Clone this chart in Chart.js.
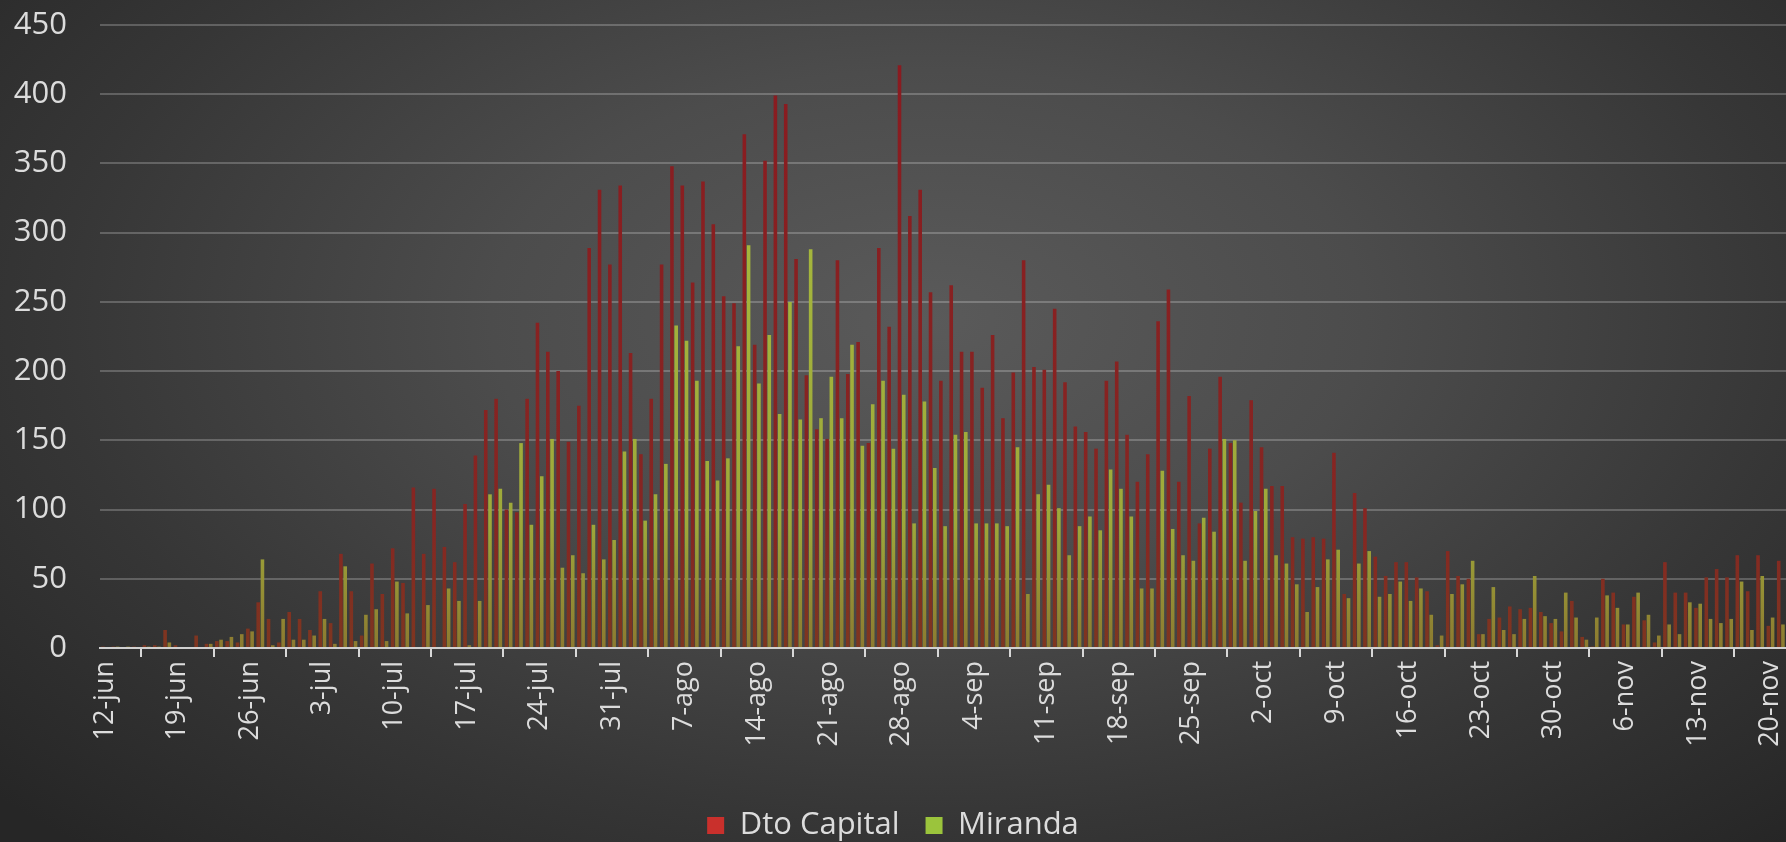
<!DOCTYPE html>
<html>
<head>
<meta charset="utf-8">
<script src="https://cdn.jsdelivr.net/npm/chart.js@4/dist/chart.umd.min.js"></script>
<style>
  html, body { margin: 0; padding: 0; }
  body {
    width: 1786px; height: 842px; overflow: hidden;
    background: radial-gradient(ellipse 70% 85% at 52% 38%, #5a5a5a 0%, #4c4c4c 35%, #363636 70%, #262626 100%);
  }
  #wrap { position: relative; width: 1786px; height: 842px; }
</style>
</head>
<body>
<div id="wrap"><canvas id="chart"></canvas></div>
<script>
// days shown on the axis: 12-jun .. 21-nov
var months = ["jun", "jul", "ago", "sep", "oct", "nov"]
var firstDay = [12, 1, 1, 1, 1, 1]
var lastDay = [30, 31, 31, 30, 31, 21]

var days = []
for (var m = 0; m < months.length; m++) {
    for (var d = firstDay[m]; d <= lastDay[m]; d++) {
        days.push(d + "-" + months[m])
    }
}

var dtoCapital = [
    // jun 12-30
    1, 1, 0, 1, 2, 2, 13, 2, 0, 9, 3, 5, 5, 4, 14, 33, 21, 4, 26,
    // jul
    21, 13, 41, 18, 68, 41, 9, 61, 39, 72, 47, 116, 68, 115, 73, 62, 104, 139, 172, 180,
    100, 98, 180, 235, 214, 200, 149, 175, 289, 331, 277,
    // ago
    334, 213, 140, 180, 277, 348, 334, 264, 337, 306, 254, 249, 371, 219, 352, 399, 393, 281, 197, 158,
    151, 280, 198, 221, 148, 289, 232, 421, 312, 331, 257,
    // sep
    193, 262, 214, 214, 188, 226, 166, 199, 280, 203, 201, 245, 192, 160, 156, 144, 193, 207, 154, 120,
    140, 236, 259, 120, 182, 90, 144, 196, 148, 105,
    // oct
    179, 145, 117, 117, 80, 79, 80, 79, 141, 39, 112, 101, 66, 52, 62, 62, 51, 41, 2, 70,
    52, 50, 10, 21, 22, 30, 28, 29, 26, 18, 12,
    // nov 1-21
    34, 8, 1, 50, 40, 17, 37, 20, 4, 62, 40, 40, 29, 51, 57, 51, 67, 41, 67, 16, 63
]

var miranda = [
    // jun 12-30
    0, 1, 1, 0, 1, 1, 4, 0, 0, 0, 3, 6, 8, 10, 12, 64, 2, 21, 6,
    // jul
    6, 9, 21, 3, 59, 5, 24, 28, 5, 48, 25, 0, 31, 0, 43, 34, 2, 34, 111, 115,
    105, 148, 89, 124, 151, 58, 67, 54, 89, 64, 78,
    // ago
    142, 151, 92, 111, 133, 233, 222, 193, 135, 121, 137, 218, 291, 191, 226, 169, 250, 165, 288, 166,
    196, 166, 219, 146, 176, 193, 144, 183, 90, 178, 130,
    // sep
    88, 154, 156, 90, 90, 90, 88, 145, 39, 111, 118, 101, 67, 88, 95, 85, 129, 115, 95, 43,
    43, 128, 86, 67, 63, 94, 84, 151, 150, 63,
    // oct
    99, 115, 67, 61, 46, 26, 44, 64, 71, 36, 61, 70, 37, 39, 48, 34, 43, 24, 9, 39,
    46, 63, 10, 44, 13, 10, 21, 52, 23, 21, 40,
    // nov 1-21
    22, 6, 22, 38, 29, 17, 40, 24, 9, 17, 10, 33, 32, 21, 18, 21, 48, 13, 52, 22, 17
]

var seriesNames = ["Dto Capital", "Miranda"]
var legendColors = ["#c9302c", "#9bc43c"]
var yTicks = [0, 50, 100, 150, 200, 250, 300, 350, 400, 450]

var textcolor = "#dcdcdc"
var gridcolor = "rgba(255, 255, 255, 0.22)"
var fontfamily = "'Open Sans', 'Noto Sans', sans-serif"

// bars fade to brown near the base, like the original
function barFill(top, mid, bottom) {
    return function (ctx) {
        var area = ctx.chart.chartArea
        if (!area) return top
        var g = ctx.chart.ctx.createLinearGradient(0, area.bottom, 0, area.top)
        g.addColorStop(0, bottom)
        g.addColorStop(0.2, mid)
        g.addColorStop(1, top)
        return g
    }
}

const data = {
    labels: days,
    datasets: [{
        label: seriesNames[0],
        data: dtoCapital,
        backgroundColor: barFill("#8a1a20", "#862622", "#7e3620"),
        categoryPercentage: 0.82,
        barPercentage: 0.85,
    }, {
        label: seriesNames[1],
        data: miranda,
        backgroundColor: barFill("#aac23e", "#9ea83a", "#8c7a30"),
        categoryPercentage: 0.82,
        barPercentage: 0.85,
    }]
};

const options = {
    animation: false,
    responsive: false,
    layout: {
        padding: { top: 25, right: 0, left: 0, bottom: -9 }
    },
    scales: {
        x: {
            offset: true,
            grid: {
                offset: true,
                drawOnChartArea: false,
                drawTicks: true,
                tickLength: 9,
                color: "#d8d8d8",
                lineWidth: 2,
            },
            border: {
                display: true,
                color: "#d0d0d0",
                width: 2,
            },
            ticks: {
                autoSkip: false,
                maxRotation: 90,
                minRotation: 90,
                padding: 4,
                color: textcolor,
                font: { family: fontfamily, size: 27 },
                callback: function (value, index) {
                    return index % 7 === 0 ? days[index] : null
                }
            },
            afterFit: function (scale) {
                scale.height = 136
                scale.paddingLeft = 0
                scale.paddingRight = 0
            }
        },
        y: {
            min: 0,
            max: 450,
            afterBuildTicks: function (scale) {
                scale.ticks = yTicks.map(function (v) { return { value: v } })
            },
            grid: {
                color: gridcolor,
                lineWidth: 2,
                drawTicks: false,
            },
            border: { display: false },
            ticks: {
                padding: 33,
                color: textcolor,
                font: { family: fontfamily, size: 31 },
            },
            afterFit: function (scale) {
                scale.width = 100
                scale.paddingTop = 0
                scale.paddingBottom = 0
            }
        }
    },
    plugins: {
        legend: {
            position: "bottom",
            labels: {
                boxWidth: 17,
                boxHeight: 17,
                padding: 26,
                color: textcolor,
                font: { family: fontfamily, size: 31 },
                generateLabels: function (chart) {
                    return chart.data.datasets.map(function (ds, i) {
                        return {
                            text: ds.label,
                            fillStyle: legendColors[i],
                            strokeStyle: legendColors[i],
                            lineWidth: 0,
                            fontColor: textcolor,
                            hidden: false,
                            datasetIndex: i,
                        }
                    })
                }
            }
        },
        tooltip: { enabled: false },
    },
};

const canvas = document.getElementById("chart")
canvas.width = 1786
canvas.height = 842

const chart = new Chart(canvas, {
    type: "bar",
    data: data,
    options: options,
});
</script>
</body>
</html>
